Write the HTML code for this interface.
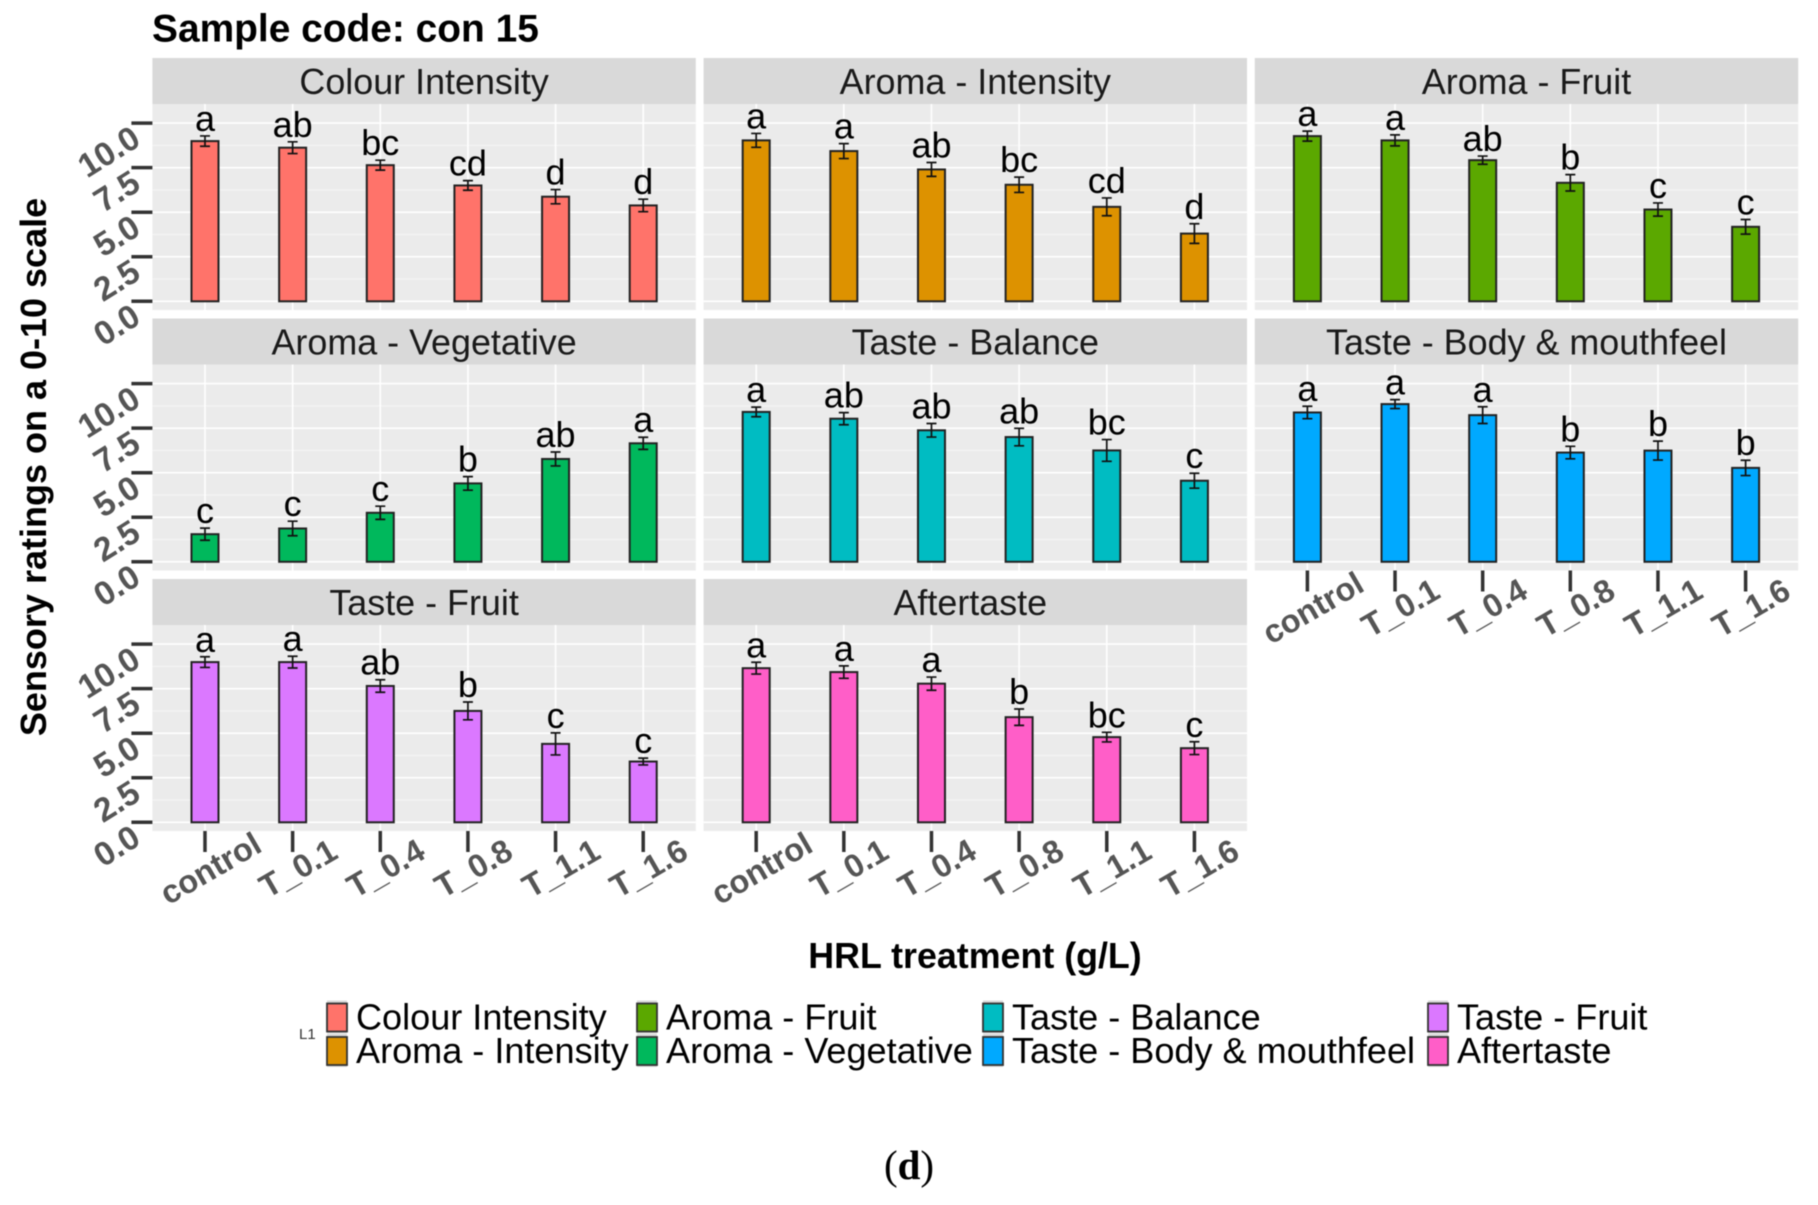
<!DOCTYPE html>
<html>
<head>
<meta charset="utf-8">
<title>Sample code: con 15</title>
<style>
html,body{margin:0;padding:0;background:#fff;}
svg{display:block;filter:blur(0.45px);}
text{font-family:"Liberation Sans",sans-serif;}
</style>
</head>
<body>
<svg id="chart" xmlns="http://www.w3.org/2000/svg" width="1818" height="1205" viewBox="0 0 1818 1205">
<rect x="0" y="0" width="1818" height="1205" fill="#ffffff"/>
<text x="152" y="41.5" font-size="38.9" font-weight="bold" fill="#000">Sample code: con 15</text>
<text transform="translate(46,467) rotate(-90)" text-anchor="middle" font-size="36" font-weight="bold" fill="#000">Sensory ratings on a 0-10 scale</text>
<text x="975" y="968" text-anchor="middle" font-size="35.8" font-weight="bold" fill="#000">HRL treatment (g/L)</text>
<text x="299" y="1039" font-size="15" fill="#333">L1</text>
<text x="909" y="1179" text-anchor="middle" font-size="41" fill="#000" style="font-family:'Liberation Serif',serif">(<tspan font-weight="bold">d</tspan>)</text>
</svg>
<script>
var categories = ["control", "T_0.1", "T_0.4", "T_0.8", "T_1.1", "T_1.6"];
var yTicks = [0, 2.5, 5, 7.5, 10];
var yTickLabels = ["0.0", "2.5", "5.0", "7.5", "10.0"];
var panelTitles = ["Colour Intensity", "Aroma - Intensity", "Aroma - Fruit", "Aroma - Vegetative", "Taste - Balance", "Taste - Body & mouthfeel", "Taste - Fruit", "Aftertaste"];
var panelColors = ["#FF736A", "#DD9200", "#5BA800", "#00B85C", "#00BCC2", "#00A9FF", "#DB78FF", "#FF5EC8"];

var colourIntensity = [8.99, 8.62, 7.64, 6.50, 5.87, 5.38];
var aromaIntensity = [9.03, 8.43, 7.40, 6.54, 5.30, 3.80];
var aromaFruit = [9.27, 9.03, 7.92, 6.65, 5.15, 4.18];
var aromaVegetative = [1.55, 1.87, 2.75, 4.40, 5.77, 6.65];
var tasteBalance = [8.41, 8.03, 7.38, 7.00, 6.25, 4.55];
var tasteBody = [8.38, 8.85, 8.23, 6.13, 6.24, 5.27];
var tasteFruit = [8.99, 8.99, 7.65, 6.25, 4.40, 3.41];
var aftertaste = [8.65, 8.43, 7.78, 5.90, 4.78, 4.16];

var colourIntensityErr = [0.29, 0.33, 0.28, 0.27, 0.40, 0.35];
var aromaIntensityErr = [0.39, 0.42, 0.39, 0.43, 0.50, 0.55];
var aromaFruitErr = [0.28, 0.31, 0.23, 0.46, 0.37, 0.41];
var aromaVegetativeErr = [0.34, 0.41, 0.37, 0.38, 0.39, 0.34];
var tasteBalanceErr = [0.27, 0.34, 0.38, 0.49, 0.61, 0.42];
var tasteBodyErr = [0.35, 0.25, 0.47, 0.35, 0.53, 0.43];
var tasteFruitErr = [0.30, 0.33, 0.35, 0.50, 0.62, 0.19];
var aftertasteErr = [0.33, 0.35, 0.37, 0.46, 0.27, 0.36];

var colourIntensityLetters = ["a", "ab", "bc", "cd", "d", "d"];
var aromaIntensityLetters = ["a", "a", "ab", "bc", "cd", "d"];
var aromaFruitLetters = ["a", "a", "ab", "b", "c", "c"];
var aromaVegetativeLetters = ["c", "c", "c", "b", "ab", "a"];
var tasteBalanceLetters = ["a", "ab", "ab", "ab", "bc", "c"];
var tasteBodyLetters = ["a", "a", "a", "b", "b", "b"];
var tasteFruitLetters = ["a", "a", "ab", "b", "c", "c"];
var aftertasteLetters = ["a", "a", "a", "b", "bc", "c"];

var seriesValues = [colourIntensity, aromaIntensity, aromaFruit, aromaVegetative, tasteBalance, tasteBody, tasteFruit, aftertaste];
var seriesErrors = [colourIntensityErr, aromaIntensityErr, aromaFruitErr, aromaVegetativeErr, tasteBalanceErr, tasteBodyErr, tasteFruitErr, aftertasteErr];
var seriesLetters = [colourIntensityLetters, aromaIntensityLetters, aromaFruitLetters, aromaVegetativeLetters, tasteBalanceLetters, tasteBodyLetters, tasteFruitLetters, aftertasteLetters];

var svg = document.getElementById("chart");
var NS = "http://www.w3.org/2000/svg";
var PANEL_W = 543.4, PANEL_H = 206, STRIP_H = 46;
var UNIT = 17.82, ZERO_OFFSET = 197.3;
var STEP = PANEL_W / 6.2;
var BAR_W = 27, CAP_W = 10;

function make(tag, attrs, parent) {
  var e = document.createElementNS(NS, tag);
  for (var k in attrs) { e.setAttribute(k, attrs[k]); }
  parent.appendChild(e);
  return e;
}
function panelLeft(col) { return 152.4 + col * 551.2; }
function stripTop(row) { return 58 + row * 260.5; }
function yScale(row, v) { return stripTop(row) + STRIP_H + ZERO_OFFSET - v * UNIT; }
function xScale(col, i) { return panelLeft(col) + STEP * (0.6 + i); }

seriesValues.forEach(function (values, p) {
  var col = p % 3, row = Math.floor(p / 3);
  var left = panelLeft(col), top = stripTop(row), plotTop = top + STRIP_H;
  var g = make("g", {}, svg);
  
  

  var strip = make("rect", { x: left, y: top, width: PANEL_W, height: STRIP_H, fill: "#D9D9D9" }, g);
  
  

  var stripShift = p === 7 ? -5 : 0;
  var stripText = make("text", { x: left + PANEL_W / 2 + stripShift, y: top + 36, "text-anchor": "middle", "font-size": "35.9", fill: "#1a1a1a" }, g);
  stripText.textContent = panelTitles[p];
  
  

  var bg = make("rect", { x: left, y: plotTop, width: PANEL_W, height: PANEL_H, fill: "#EBEBEB" }, g);
  
  

  yTicks.forEach(function (t, k) {
    var gy = yScale(row, t);
    var major = make("line", { x1: left, x2: left + PANEL_W, y1: gy, y2: gy, stroke: "#fff", "stroke-width": "1.6" }, g);
    
    
    if (k < yTicks.length - 1) {
      var my = yScale(row, t + 1.25);
      var minor = make("line", { x1: left, x2: left + PANEL_W, y1: my, y2: my, stroke: "#F6F6F6", "stroke-width": "1" }, g);
      
      
    }
  });

  categories.forEach(function (c, i) {
    var vx = xScale(col, i);
    var vg = make("line", { x1: vx, x2: vx, y1: plotTop, y2: plotTop + PANEL_H, stroke: "#fff", "stroke-width": "1.6" }, g);
    
    
  });

  values.forEach(function (v, i) {
    var cx = xScale(col, i);
    var e = seriesErrors[p][i];
    var base = yScale(row, 0), vy = yScale(row, v);
    var bar = make("rect", { x: cx - BAR_W / 2, y: vy, width: BAR_W, height: base - vy, fill: panelColors[p], stroke: "#222", "stroke-width": "2" }, g);
    
    

    var yHi = yScale(row, v + e), yLo = yScale(row, v - e);
    var stem = make("path", { d: "M" + (cx - CAP_W / 2) + " " + yHi + "H" + (cx + CAP_W / 2) + "M" + cx + " " + yHi + "V" + yLo + "M" + (cx - CAP_W / 2) + " " + yLo + "H" + (cx + CAP_W / 2), stroke: "#111", "stroke-width": "1.7", fill: "none" }, g);
    
    

    var lab = make("text", { x: cx, y: yHi - 5, "text-anchor": "middle", "font-size": "36", fill: "#000" }, g);
    lab.textContent = seriesLetters[p][i];
    
    
  });

  if (col === 0) {
    yTicks.forEach(function (t, k) {
      var ty = yScale(row, t);
      var tick = make("line", { x1: left - 21, x2: left, y1: ty, y2: ty, stroke: "#333", "stroke-width": "3.5" }, g);
      
      
      var tl = make("text", { transform: "translate(" + (left - 10) + "," + (ty + 21) + ") rotate(-32)", "text-anchor": "end", "font-size": "33.5", "font-weight": "bold", fill: "#555" }, g);
      tl.textContent = yTickLabels[k];
      
      
    });
  }

  if (p >= 5) {
    categories.forEach(function (c, i) {
      var tx = xScale(col, i), by = plotTop + PANEL_H;
      var xt = make("line", { x1: tx, x2: tx, y1: by, y2: by + 21, stroke: "#333", "stroke-width": "3.5" }, g);
      
      
      var xl = make("text", { transform: "translate(" + (tx + 11) + "," + (by + 47) + ") rotate(-30)", "text-anchor": "middle", "dominant-baseline": "alphabetic", "font-size": "32.5", "font-weight": "bold", fill: "#555" }, g);
      xl.textContent = c;
      
      
    });
  }
});

var legendSwatchX = [327, 637, 983, 1428];
var legendTextX = [356, 666, 1012, 1457];
var legendRowY = [1002, 1035.5];

panelTitles.forEach(function (name, p) {
  var c = Math.floor(p / 2), r = p % 2;
  var entry = make("g", {}, svg);
  
  
  var key = make("rect", { x: legendSwatchX[c], y: legendRowY[r] - 1.5, width: 20, height: 33, fill: "#D9D9D9", stroke: "none" }, entry);
  
  
  var sw = make("rect", { x: legendSwatchX[c], y: legendRowY[r] + 1.5, width: 20, height: 28, fill: panelColors[p], stroke: "#333", "stroke-width": "1.8" }, entry);
  
  
  var lt = make("text", { x: legendTextX[c], y: legendRowY[r] + 27.5, "font-size": "36.1", fill: "#000" }, entry);
  lt.textContent = name;
  
  
});
</script>
</body>
</html>
